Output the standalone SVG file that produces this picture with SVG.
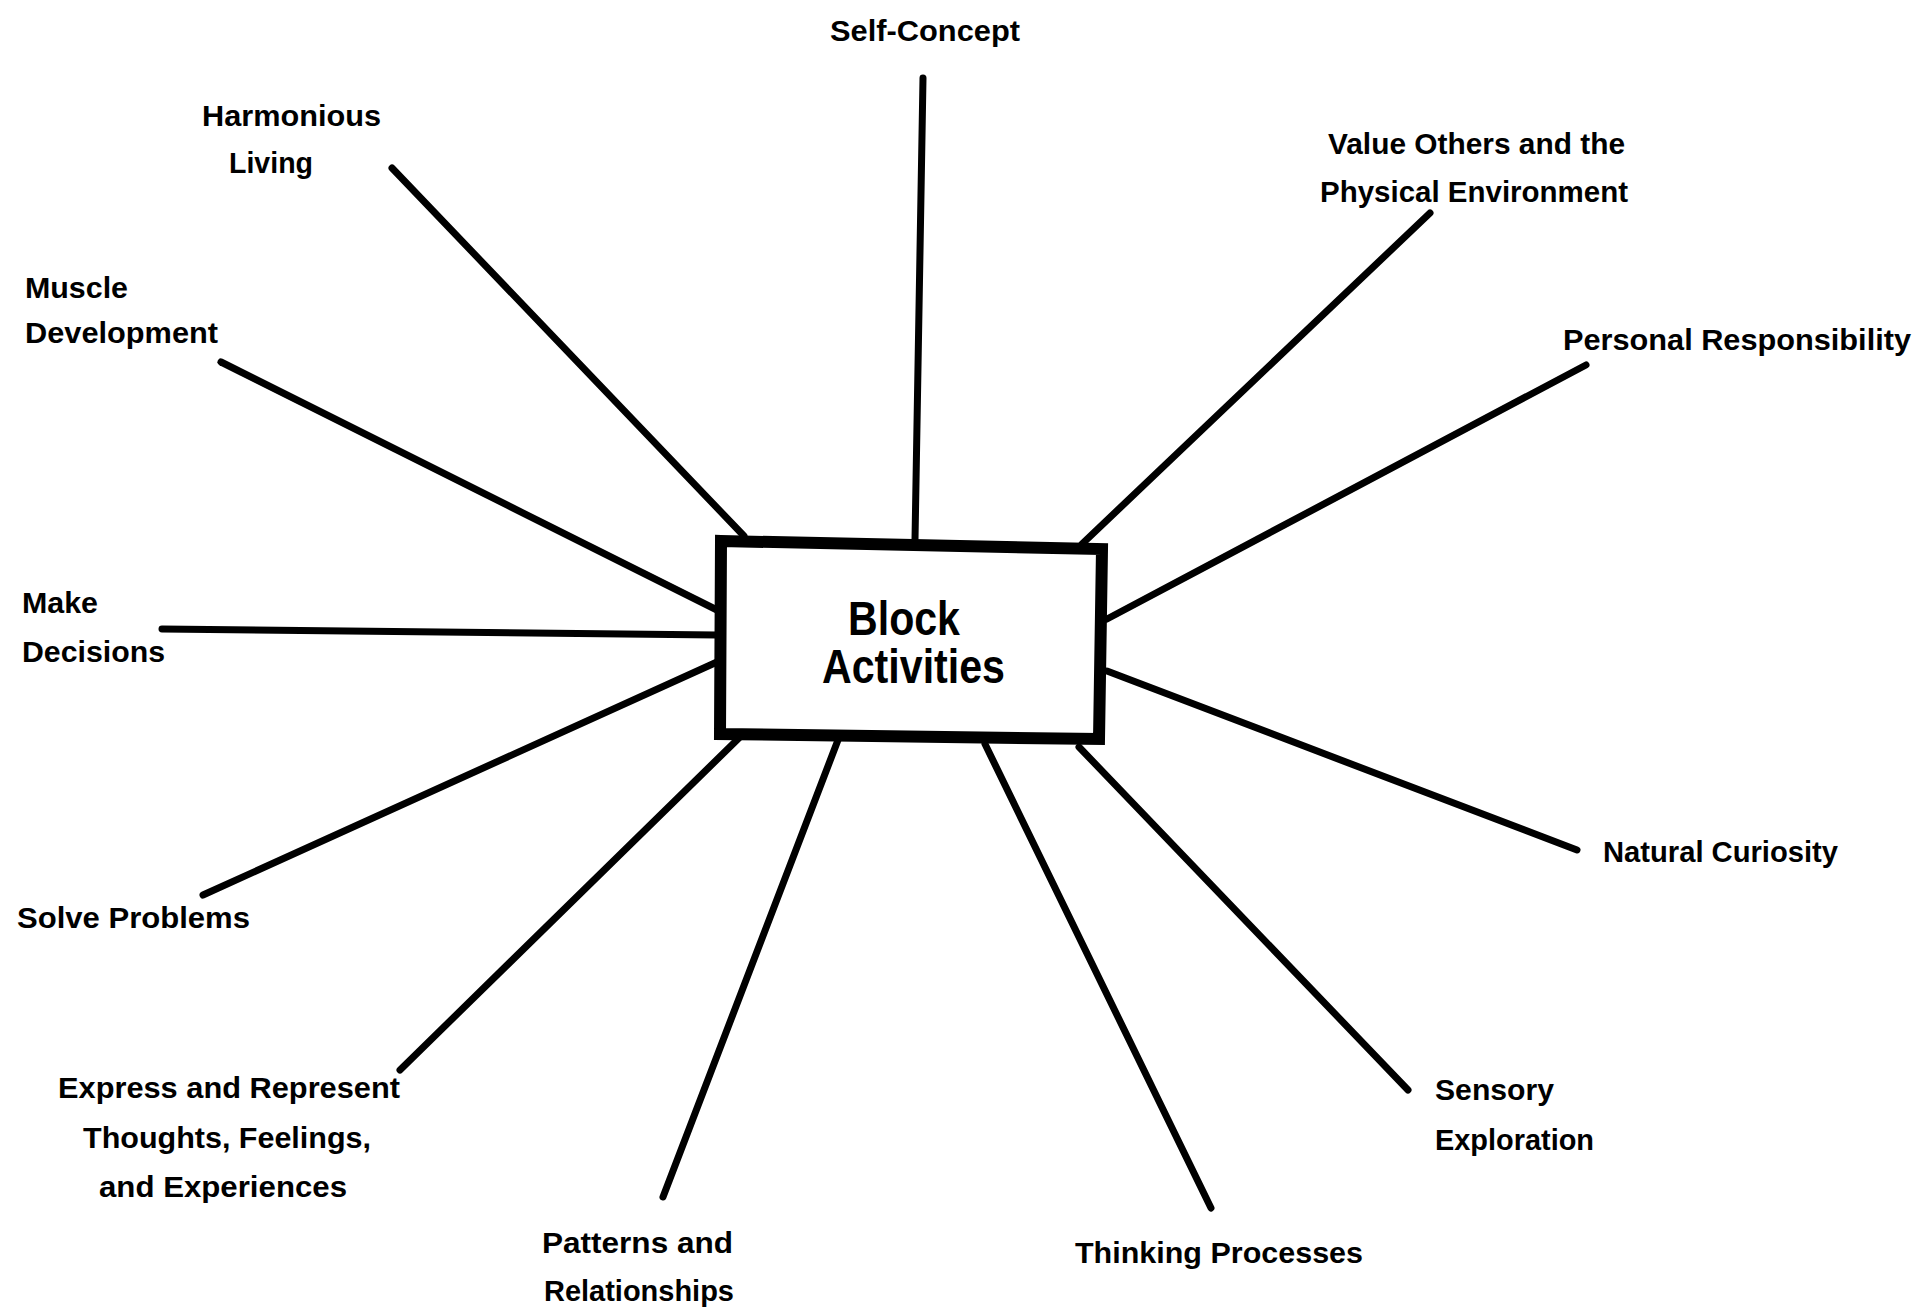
<svg xmlns="http://www.w3.org/2000/svg" width="1923" height="1310" viewBox="0 0 1923 1310">
<style>
.lbl{font-family:"Liberation Sans",Arial,sans-serif;font-weight:bold;font-size:29px;fill:#000}
.center{font-family:"Liberation Sans",Arial,sans-serif;font-weight:bold;font-size:48px;fill:#000}
.conn line{stroke:#000;stroke-width:7;stroke-linecap:round}
.box{fill:#fff;stroke:#000;stroke-width:12;stroke-linejoin:miter}
</style>
<rect width="1923" height="1310" fill="#fff"/>
<g id="connectors" class="conn">
<line x1="923" y1="78" x2="915" y2="540"/>
<line x1="392" y1="168" x2="744" y2="536"/>
<line x1="1430" y1="213" x2="1082" y2="544"/>
<line x1="221" y1="362" x2="717" y2="610"/>
<line x1="1586" y1="365" x2="1107" y2="619"/>
<line x1="162" y1="629" x2="717" y2="635"/>
<line x1="203" y1="895" x2="717" y2="662"/>
<line x1="1107" y1="671" x2="1577" y2="850"/>
<line x1="400" y1="1070" x2="739" y2="738"/>
<line x1="663" y1="1197" x2="838" y2="740"/>
<line x1="985" y1="744" x2="1211" y2="1208"/>
<line x1="1079" y1="747" x2="1408" y2="1090"/>
</g>
<g id="block-activities">
<polygon class="box" points="721,541 1102,549 1099,739 720,734"/>
<text class="center" x="848" y="635" textLength="112" lengthAdjust="spacingAndGlyphs">Block</text>
<text class="center" x="822" y="683" textLength="183" lengthAdjust="spacingAndGlyphs">Activities</text>
</g>
<g id="self-concept"><text class="lbl" x="830" y="41" textLength="190" lengthAdjust="spacingAndGlyphs">Self-Concept</text></g>
<g id="harmonious-living">
<text class="lbl" x="202" y="126" textLength="179" lengthAdjust="spacingAndGlyphs">Harmonious</text>
<text class="lbl" x="229" y="173" textLength="84" lengthAdjust="spacingAndGlyphs">Living</text>
</g>
<g id="value-others">
<text class="lbl" x="1328" y="154" textLength="297" lengthAdjust="spacingAndGlyphs">Value Others and the</text>
<text class="lbl" x="1320" y="202" textLength="308" lengthAdjust="spacingAndGlyphs">Physical Environment</text>
</g>
<g id="muscle-development">
<text class="lbl" x="25" y="298" textLength="103" lengthAdjust="spacingAndGlyphs">Muscle</text>
<text class="lbl" x="25" y="343" textLength="193" lengthAdjust="spacingAndGlyphs">Development</text>
</g>
<g id="personal-responsibility"><text class="lbl" x="1563" y="350" textLength="348" lengthAdjust="spacingAndGlyphs">Personal Responsibility</text></g>
<g id="make-decisions">
<text class="lbl" x="22" y="613" textLength="76" lengthAdjust="spacingAndGlyphs">Make</text>
<text class="lbl" x="22" y="662" textLength="143" lengthAdjust="spacingAndGlyphs">Decisions</text>
</g>
<g id="solve-problems"><text class="lbl" x="17" y="928" textLength="233" lengthAdjust="spacingAndGlyphs">Solve Problems</text></g>
<g id="natural-curiosity"><text class="lbl" x="1603" y="862" textLength="235" lengthAdjust="spacingAndGlyphs">Natural Curiosity</text></g>
<g id="express-represent">
<text class="lbl" x="58" y="1098" textLength="342" lengthAdjust="spacingAndGlyphs">Express and Represent</text>
<text class="lbl" x="83" y="1148" textLength="288" lengthAdjust="spacingAndGlyphs">Thoughts, Feelings,</text>
<text class="lbl" x="99" y="1197" textLength="248" lengthAdjust="spacingAndGlyphs">and Experiences</text>
</g>
<g id="patterns-relationships">
<text class="lbl" x="542" y="1253" textLength="191" lengthAdjust="spacingAndGlyphs">Patterns and</text>
<text class="lbl" x="544" y="1301" textLength="190" lengthAdjust="spacingAndGlyphs">Relationships</text>
</g>
<g id="thinking-processes"><text class="lbl" x="1075" y="1263" textLength="288" lengthAdjust="spacingAndGlyphs">Thinking Processes</text></g>
<g id="sensory-exploration">
<text class="lbl" x="1435" y="1100" textLength="119" lengthAdjust="spacingAndGlyphs">Sensory</text>
<text class="lbl" x="1435" y="1150" textLength="159" lengthAdjust="spacingAndGlyphs">Exploration</text>
</g>
</svg>
